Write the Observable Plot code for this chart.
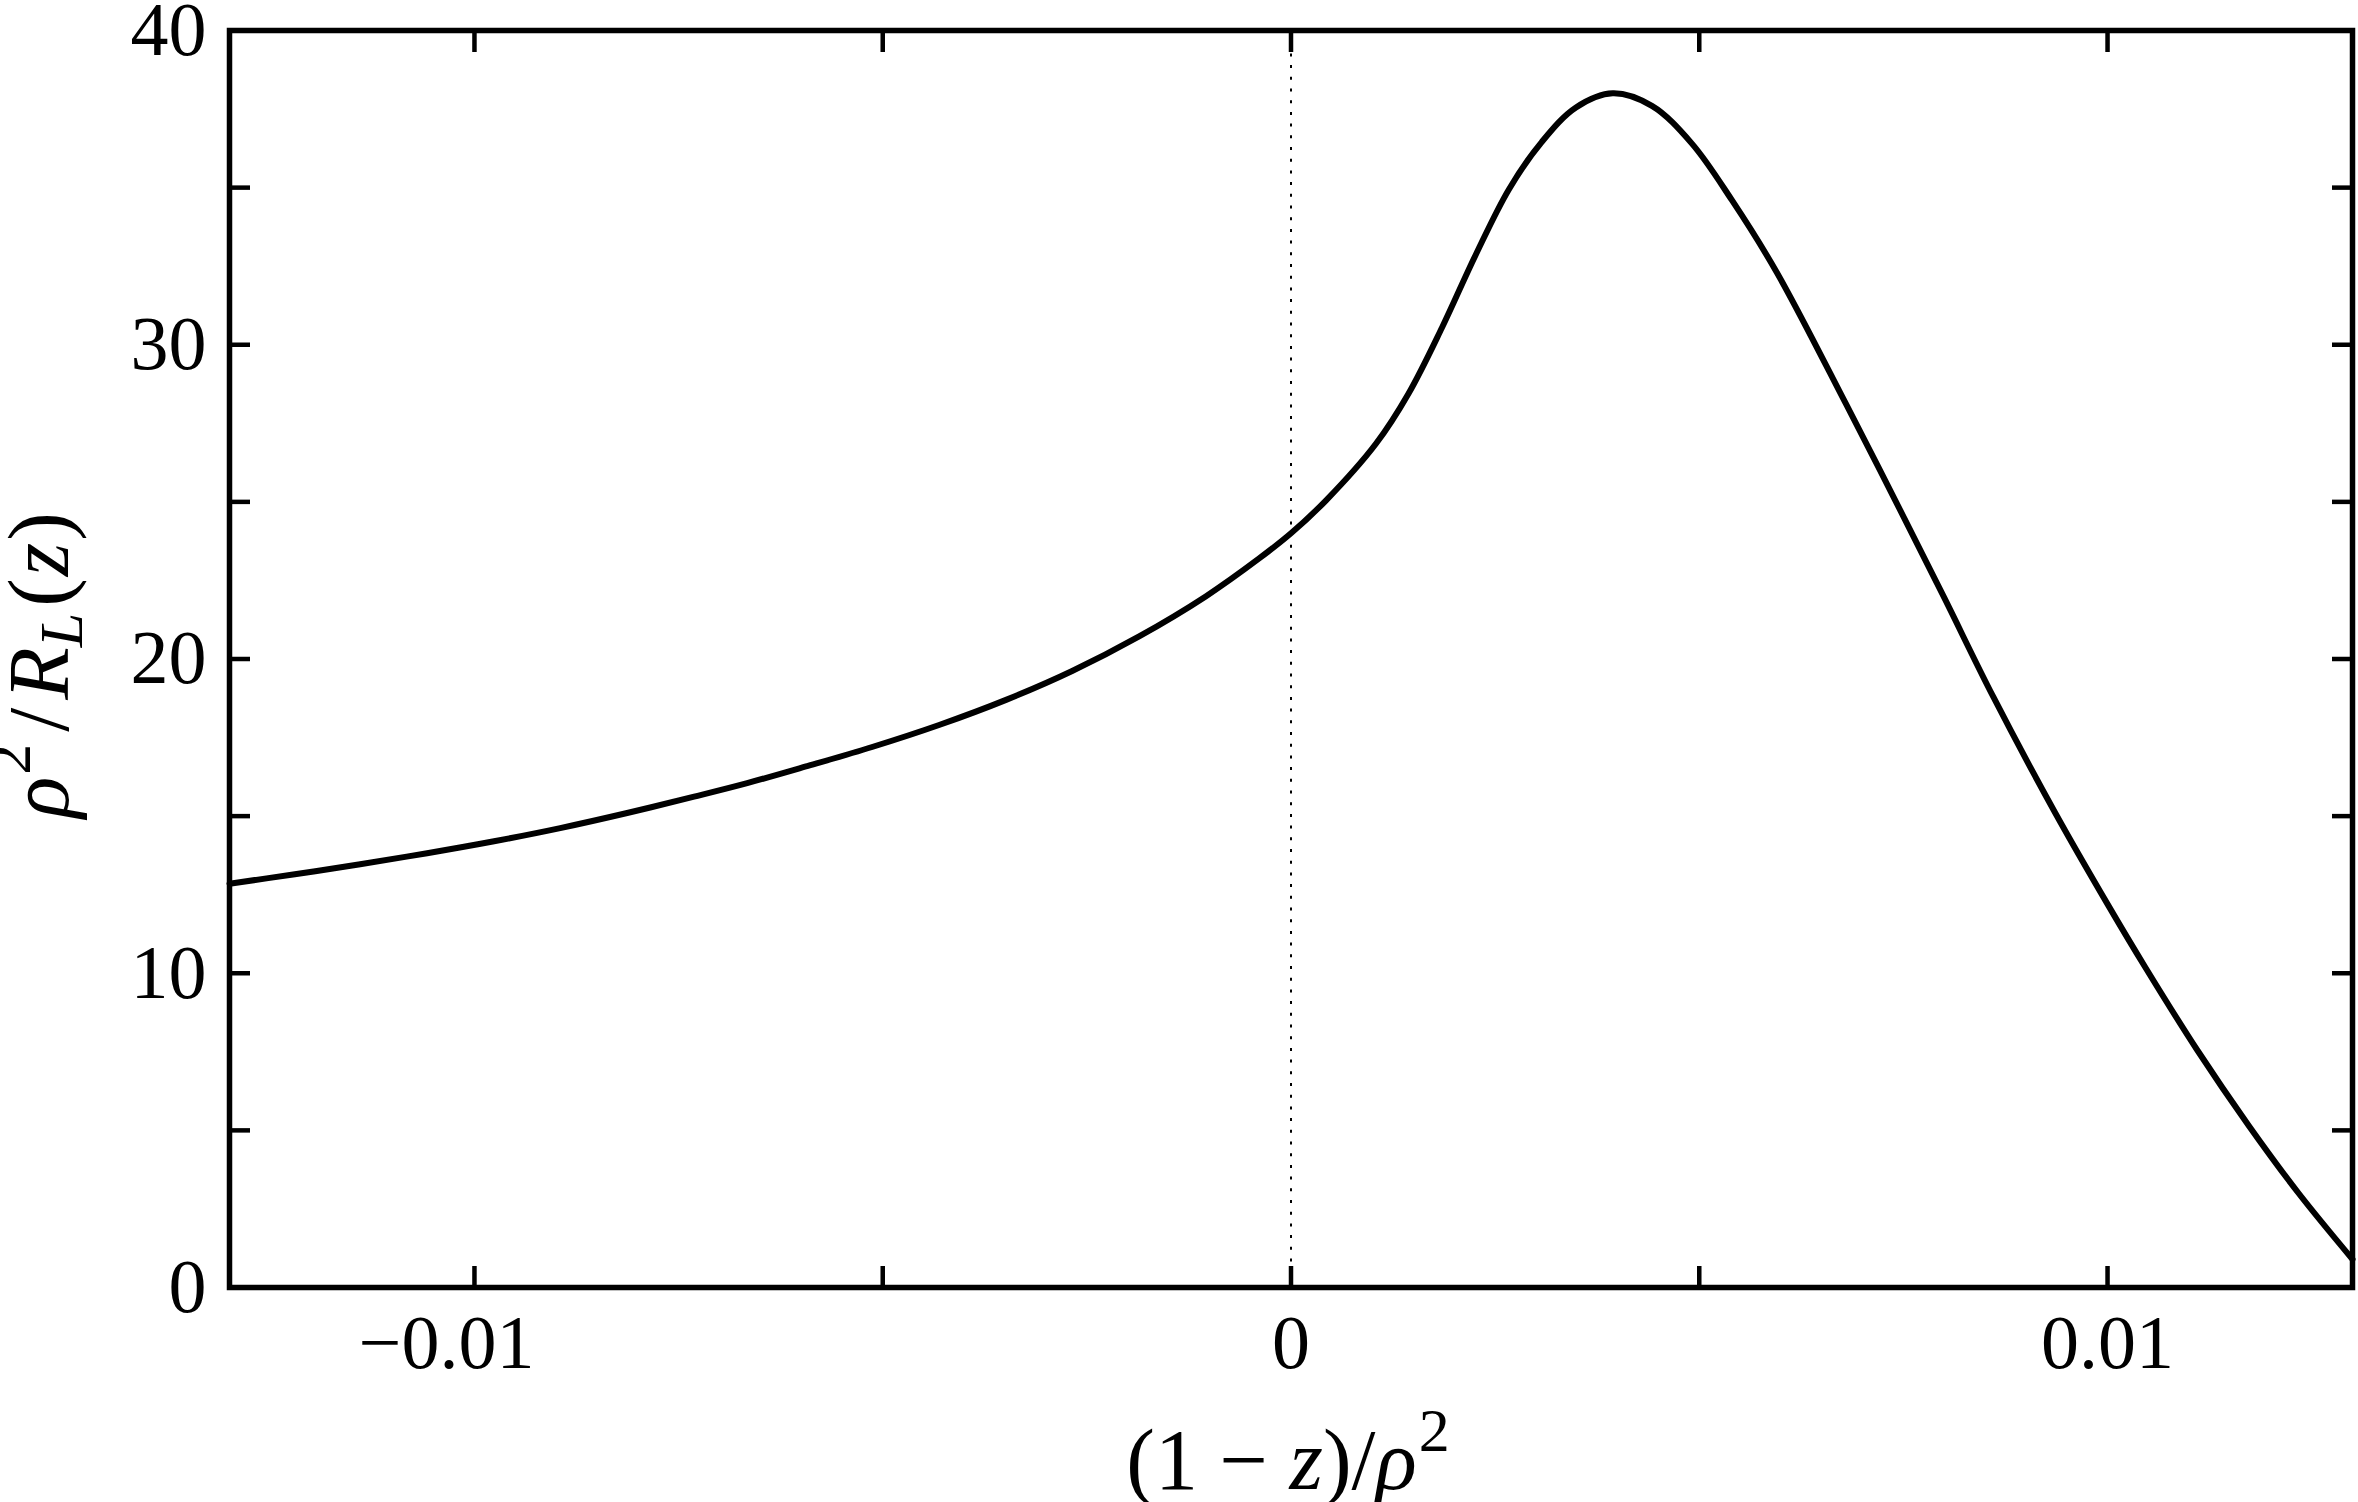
<!DOCTYPE html>
<html>
<head>
<meta charset="utf-8">
<script src="https://cdn.jsdelivr.net/npm/d3@7"></script>
<script src="https://cdn.jsdelivr.net/npm/@observablehq/plot@0.6"></script>
<style>
  html, body { margin: 0; padding: 0; background: #fff; }
  #chart svg { display: block; }
</style>
</head>
<body>
<div id="chart"></div>
<script>
// curve samples: x = (1 - z)/rho^2, y = rho^2 / R_L(z)
const xValues = [-0.013, -0.0122, -0.0114, -0.01058, -0.00976, -0.00895, -0.00813, -0.00731,
  -0.00666, -0.00594, -0.00513, -0.00431, -0.00349, -0.00268, -0.00186, -0.00104, -0.00039,
  0, 0.00043, 0.00104, 0.00144, 0.00185, 0.00226, 0.00267, 0.00307, 0.00349, 0.00394,
  0.00442, 0.00491, 0.0054, 0.00595, 0.0068, 0.0074, 0.008, 0.0086, 0.00936, 0.01,
  0.01046, 0.0111, 0.01173, 0.01234, 0.013];
const yValues = [12.85, 13.15, 13.47, 13.82, 14.2, 14.62, 15.1, 15.62,
  16.05, 16.58, 17.2, 17.9, 18.7, 19.62, 20.72, 22.0, 23.2,
  24.0, 25.05, 26.85, 28.45, 30.55, 32.85, 34.95, 36.45, 37.55, 38.0,
  37.6, 36.4, 34.6, 32.3, 28.1, 25.05, 21.95, 18.8, 15.1, 12.2,
  10.2, 7.55, 5.15, 3.0, 0.9];

const xMajorTicks = [-0.01, -0.005, 0, 0.005, 0.01];
const xLabelTicksNeg = [-0.01];
const xLabelTicksPos = [0, 0.01];
const yMajorTicks = [0, 5, 10, 15, 20, 25, 30, 35, 40];
const yLabelTicks = [0, 10, 20, 30, 40];
const referenceX = [0];

const data = xValues.map((x, i) => ({x, y: yValues[i]}));

const fmtX = d => d === 0 ? "0" : (d < 0 ? "\u2212" : "") + Math.abs(d).toString();
const blank = () => "";
const tickLen = -21;
const tickW = 4.5;

const chart = Plot.plot({
  width: 2358,
  height: 1502,
  marginLeft: 229,
  marginRight: 6,
  marginTop: 30,
  marginBottom: 215,
  x: {domain: [-0.013, 0.013]},
  y: {domain: [0, 40]},
  style: {fontFamily: "'Liberation Serif', 'DejaVu Serif', serif", fontSize: "76px", color: "#000", background: "#fff"},
  marks: [
    Plot.ruleX(referenceX, {stroke: "#000", strokeWidth: 2, strokeDasharray: "3,8.7"}),
    Plot.line(data, {x: "x", y: "y", curve: "catmull-rom", stroke: "#000", strokeWidth: 6}),
    Plot.frame({stroke: "#000", strokeWidth: 5.5}),
    Plot.axisX({ticks: xMajorTicks, anchor: "bottom", tickSize: tickLen, strokeWidth: tickW, tickFormat: blank, label: null}),
    Plot.axisX({ticks: xMajorTicks, anchor: "top", tickSize: tickLen, strokeWidth: tickW, tickFormat: blank, label: null}),
    Plot.axisY({ticks: yMajorTicks, anchor: "left", tickSize: tickLen, strokeWidth: tickW, tickFormat: blank, label: null}),
    Plot.axisY({ticks: yMajorTicks, anchor: "right", tickSize: tickLen, strokeWidth: tickW, tickFormat: blank, label: null}),
    Plot.axisX({ticks: xLabelTicksNeg, anchor: "bottom", tickSize: 0, tickPadding: 27, dx: -28, tickFormat: fmtX, label: null, fontSize: 76}),
    Plot.axisX({ticks: xLabelTicksPos, anchor: "bottom", tickSize: 0, tickPadding: 27, tickFormat: fmtX, label: null, fontSize: 76}),
    Plot.axisY({ticks: yLabelTicks, anchor: "left", tickSize: 0, tickPadding: 23, tickFormat: d => String(d), label: null, fontSize: 76})
  ]
});

document.getElementById("chart").appendChild(chart);

// axis titles with math-like sub/superscripts
const svg = d3.select(chart);
const fam = "'Liberation Serif', 'DejaVu Serif', serif";

const yl = svg.append("text")
  .attr("transform", "translate(68,665) rotate(-90)")
  .attr("text-anchor", "middle")
  .attr("font-family", fam)
  .attr("font-size", 86)
  .attr("fill", "#000");
yl.append("tspan").attr("font-style", "italic").text("\u03C1");
yl.append("tspan").attr("font-size", 62).attr("dy", -38).attr("dx", 2).text("2");
yl.append("tspan").attr("dy", 38).attr("dx", 12).text("/");
yl.append("tspan").attr("font-style", "italic").attr("dx", 8).text("R");
yl.append("tspan").attr("font-style", "italic").attr("font-size", 62).attr("dy", 14).text("L");
yl.append("tspan").attr("dy", -14).attr("dx", 6).text("(");
yl.append("tspan").attr("font-style", "italic").attr("dx", 2).text("z");
yl.append("tspan").attr("dx", 2).text(")");

const xl = svg.append("text")
  .attr("x", 1288)
  .attr("y", 1489)
  .attr("text-anchor", "middle")
  .attr("font-family", fam)
  .attr("font-size", 86)
  .attr("fill", "#000");
xl.append("tspan").text("(1 \u2212 ");
xl.append("tspan").attr("font-style", "italic").text("z");
xl.append("tspan").text(")/");
xl.append("tspan").attr("font-style", "italic").text("\u03C1");
xl.append("tspan").attr("font-size", 62).attr("dy", -38).attr("dx", 2).text("2");
</script>
</body>
</html>
